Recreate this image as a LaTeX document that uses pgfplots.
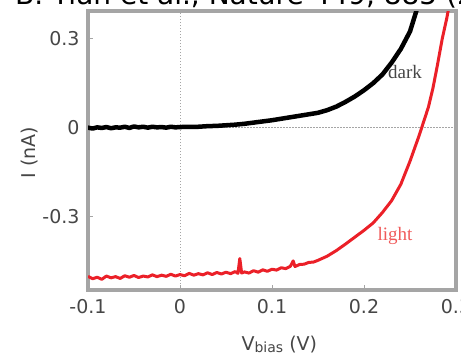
\documentclass[border=0pt]{standalone}
\usepackage{pgfplots}
\pgfplotsset{compat=1.18}
\usepackage{fontspec}
\setmainfont{DejaVu Sans}
\newfontfamily\lblfont{Liberation Serif}
\definecolor{ired}{RGB}{235,32,40}
\definecolor{lred}{RGB}{240,90,90}
\definecolor{fgray}{RGB}{165,165,165}
\definecolor{tgray}{RGB}{70,70,70}

\pgfplotstableread{
V I
-0.100 0.001
-0.095 -0.002
-0.090 0.002
-0.085 0.000
-0.080 0.003
-0.075 -0.001
-0.070 0.002
-0.065 0.001
-0.060 0.004
-0.055 0.000
-0.050 0.005
-0.045 0.002
-0.040 0.004
-0.035 0.001
-0.030 0.004
-0.025 0.002
-0.020 0.003
-0.015 0.001
-0.010 0.004
-0.005 0.002
0.000 0.003
0.010 0.004
0.020 0.004
0.030 0.006
0.040 0.007
0.050 0.009
0.060 0.011
0.070 0.014
0.080 0.018
0.090 0.022
0.100 0.026
0.110 0.031
0.120 0.036
0.130 0.041
0.140 0.046
0.150 0.051
0.160 0.060
0.170 0.072
0.180 0.088
0.190 0.106
0.200 0.127
0.210 0.151
0.220 0.180
0.230 0.220
0.240 0.266
0.250 0.325
0.2575 0.400
0.260 0.430
}\darkdata

\pgfplotstableread{
V I
-0.100 -0.500
-0.095 -0.508
-0.090 -0.503
-0.085 -0.510
-0.080 -0.499
-0.075 -0.505
-0.070 -0.501
-0.065 -0.507
-0.060 -0.498
-0.055 -0.503
-0.050 -0.497
-0.045 -0.504
-0.040 -0.499
-0.035 -0.502
-0.030 -0.495
-0.025 -0.501
-0.020 -0.496
-0.015 -0.500
-0.010 -0.493
-0.005 -0.499
0.000 -0.494
0.005 -0.498
0.010 -0.490
0.015 -0.496
0.020 -0.491
0.025 -0.495
0.030 -0.488
0.035 -0.494
0.040 -0.487
0.045 -0.492
0.050 -0.486
0.055 -0.491
0.060 -0.484
0.063 -0.490
0.065 -0.440
0.067 -0.489
0.070 -0.485
0.075 -0.489
0.080 -0.481
0.085 -0.486
0.090 -0.478
0.095 -0.483
0.100 -0.476
0.105 -0.479
0.110 -0.471
0.115 -0.474
0.120 -0.466
0.123 -0.448
0.125 -0.467
0.130 -0.460
0.135 -0.459
0.140 -0.453
0.145 -0.452
0.150 -0.446
0.160 -0.432
0.170 -0.413
0.180 -0.391
0.190 -0.368
0.200 -0.345
0.210 -0.320
0.220 -0.285
0.230 -0.245
0.240 -0.190
0.250 -0.112
0.260 -0.025
0.270 0.070
0.275 0.135
0.280 0.215
0.285 0.300
0.290 0.370
0.293 0.420
}\lightdata

\begin{document}
\begin{tikzpicture}
\begin{axis}[
  at={(88bp,68bp)}, anchor=south west,
  scale only axis, width=368bp, height=279bp,
  xmin=-0.1, xmax=0.3, ymin=-0.546, ymax=0.394,
  xtick={-0.1,0,0.1,0.2,0.3},
  xticklabels={-0.1,0,0.1,0.2,0.3},
  ytick={-0.3,0,0.3},
  yticklabels={-0.3,0,0.3},
  xtick pos=lower, ytick pos=left,
  tick align=inside,
  major tick length=5bp,
  tick style={fgray, line width=1bp},
  axis line style={fgray, line width=3.5bp},
  ticklabel style={font=\fontsize{19bp}{22bp}\selectfont, text=tgray},
  xticklabel style={yshift=-6bp},
  yticklabel style={xshift=-5bp},
  xlabel={V\raisebox{-1.5bp}{\fontsize{14bp}{16bp}\selectfont bias} (V)},
  ylabel={I (nA)},
  label style={font=\fontsize{19bp}{22bp}\selectfont, text=tgray},
  xlabel style={at={(axis description cs:0.52,-0.197)}, anchor=center},
  ylabel style={at={(axis description cs:-0.158,0.493)}, anchor=center},
]
\addplot[fgray, line width=1bp, dash pattern=on 1.5bp off 1.5bp] coordinates {(0,-0.546) (0,0.394)};
\addplot[fgray, line width=1bp, dash pattern=on 1.5bp off 1.5bp] coordinates {(-0.1,0) (0.3,0)};
\addplot[black, line width=4.5bp, line join=round, line cap=round] table[x=V,y=I] {\darkdata};
\addplot[ired, line width=3bp, line join=round] table[x=V,y=I] {\lightdata};
\node[font=\lblfont\fontsize{19bp}{22bp}\selectfont, text=tgray] at (axis cs:0.2446,0.190) {dark};
\node[font=\lblfont\fontsize{19bp}{22bp}\selectfont, text=lred] at (axis cs:0.2337,-0.364) {light};
\end{axis}
\node[anchor=base west, font=\fontsize{28bp}{32bp}\selectfont, inner sep=0pt] at (15bp,353.5bp) {B. Tian et al., Nature 449, 885 (2007)};
\pgfresetboundingbox
\useasboundingbox (0,0) rectangle (461bp,358bp);
\end{tikzpicture}
\end{document}
